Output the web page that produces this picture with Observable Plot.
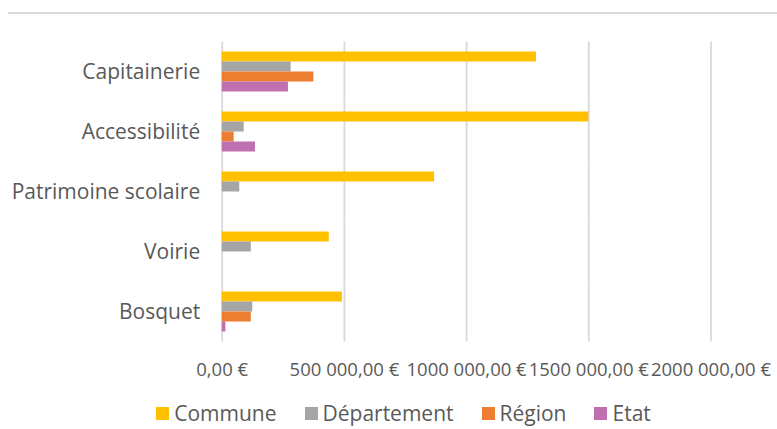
<!DOCTYPE html>
<html><head><meta charset="utf-8">
<script src="https://cdn.jsdelivr.net/npm/d3@7"></script>
<script src="https://cdn.jsdelivr.net/npm/@observablehq/plot@0.6"></script>
<style>
body{margin:0;background:#fff;}
#wrap{position:relative;width:777px;height:429px;font-family:"Open Sans",sans-serif;color:#595959;}
#topline{position:absolute;left:8px;right:0;top:12px;height:2px;background:#d9d9d9;}
#chart{position:absolute;left:0;top:0;}
#legend{position:absolute;left:0;width:777px;top:403px;height:21px;display:flex;justify-content:center;align-items:center;padding-left:30px;box-sizing:border-box;font-size:21px;line-height:21px;}
.item{display:flex;align-items:center;margin:0 14px;}
.sw{width:13px;height:13px;margin-right:5px;}
svg [aria-label^="x-axis"]{font-size:18.5px;}
</style>
</head><body>
<div id="wrap"><div id="topline"></div><div id="chart"></div><div id="legend"></div></div>
<script>
const categories = ["Capitainerie", "Accessibilité", "Patrimoine scolaire", "Voirie", "Bosquet"];
const series = ["Commune", "Département", "Région", "Etat"];
const colors = ["#FFC000", "#A5A5A5", "#ED7D31", "#C06FB0"];
const commune = [1286000, 1500000, 869000, 438000, 492000];
const departement = [282000, 90000, 72000, 119000, 125000];
const region = [375000, 49000, 0, 0, 119000];
const etat = [271000, 136000, 0, 0, 15000];
const xTicks = [0, 500000, 1000000, 1500000, 2000000];
const xTickLabels = ["0,00 €", "500 000,00 €", "1000 000,00 €", "1500 000,00 €", "2000 000,00 €"];

const seriesValues = [commune, departement, region, etat];
const rows = categories.flatMap((c, i) => series.map((s, j) => ({category: c, series: s, value: seriesValues[j][i]})));

const chart = Plot.plot({
  width: 777,
  height: 390,
  marginLeft: 221.7,
  marginRight: 66.5,
  marginTop: 41.5,
  marginBottom: 48.5,
  style: {fontFamily: "Open Sans, sans-serif", fontSize: "21px", color: "#595959", background: "transparent", overflow: "visible"},
  x: {domain: [0, 2000000], ticks: xTicks, tickFormat: d => xTickLabels[xTicks.indexOf(d)], tickSize: 0, tickPadding: 30, label: null},
  fy: {domain: categories, paddingInner: 0.317, paddingOuter: 0.158, axis: "left", tickSize: 0, tickPadding: 22, label: null},
  y: {domain: series, padding: 0, axis: null},
  color: {domain: series, range: colors},
  marks: [
    Plot.ruleX(xTicks, {stroke: "#d9d9d9", strokeWidth: 1.8, insetTop: -9.5, insetBottom: -9.5}),
    Plot.barX(rows, {fy: "category", y: "series", x: "value", fill: "series"})
  ]
});
document.getElementById("chart").appendChild(chart);

const legend = document.getElementById("legend");
series.forEach((s, i) => {
  const it = document.createElement("div");
  it.className = "item";
  const sw = document.createElement("span");
  sw.className = "sw";
  sw.style.background = colors[i];
  const t = document.createElement("span");
  t.textContent = s;
  it.appendChild(sw); it.appendChild(t);
  legend.appendChild(it);
});
</script>
</body></html>
